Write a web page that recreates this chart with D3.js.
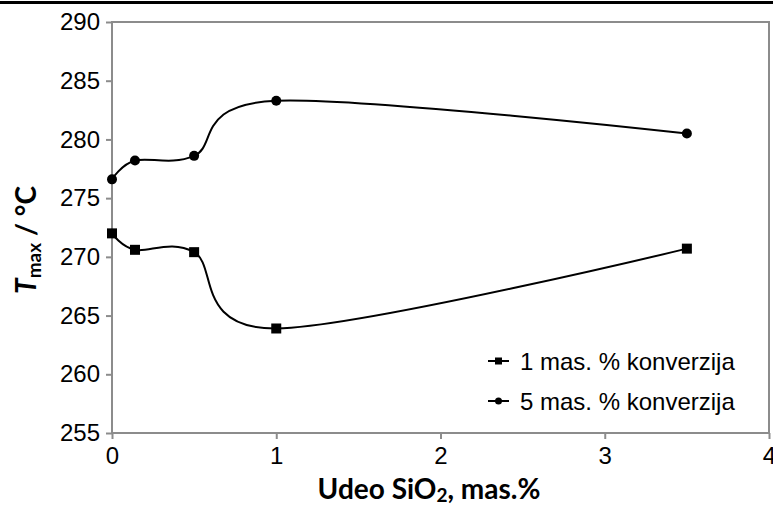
<!DOCTYPE html>
<html>
<head>
<meta charset="utf-8">
<script src="https://cdn.jsdelivr.net/npm/d3@7"></script>
<style>
body { margin: 0; background: #fff; }
text { font-family: "Liberation Sans", Arial, sans-serif; }
</style>
</head>
<body>
<div id="chart"></div>
<script>
// data
var silicaX = [0, 0.14, 0.5, 1, 3.5];
var conv1 = [272.0, 270.6, 270.4, 263.9, 270.7];
var conv5 = [276.6, 278.2, 278.6, 283.3, 280.5];
var xTicks = [0, 1, 2, 3, 4];
var yTicks = [255, 260, 265, 270, 275, 280, 285, 290];
var seriesNames = ["1 mas. % konverzija", "5 mas. % konverzija"];

var width = 773, height = 507;
var margin = {top: 22, right: 4, bottom: 74, left: 112};

var svg = d3.select("#chart").append("svg")
    .attr("width", width)
    .attr("height", height);

// black rule at very top
svg.append("line")
    .attr("x1", 0).attr("x2", width)
    .attr("y1", 2.5).attr("y2", 2.5)
    .attr("stroke", "#000").attr("stroke-width", 3);

var x = d3.scaleLinear().domain([0, 4]).range([margin.left, width - margin.right]);
var y = d3.scaleLinear().domain([255, 290]).range([height - margin.bottom, margin.top]);

// frame
svg.append("rect")
    .attr("x", x(0)).attr("y", y(290))
    .attr("width", x(4) - x(0)).attr("height", y(255) - y(290))
    .attr("fill", "none").attr("stroke", "#8c8c8c").attr("stroke-width", 2);

var yAxis = svg.append("g")
    .attr("transform", "translate(" + x(0) + ",0)")
    .call(d3.axisLeft(y).tickValues(yTicks).tickSize(6).tickPadding(6));
var xAxis = svg.append("g")
    .attr("transform", "translate(0," + y(255) + ")")
    .call(d3.axisBottom(x).tickValues(xTicks).tickFormat(d3.format("d")).tickSize(6).tickPadding(8));

[yAxis, xAxis].forEach(function(a) {
    a.select(".domain").remove();
    a.selectAll("line").attr("stroke", "#8c8c8c").attr("stroke-width", 2);
    a.selectAll("text").attr("fill", "#000").style("font-size", "24px")
        .style("font-family", "'Liberation Sans', Arial, sans-serif");
});

var line = d3.line()
    .x(function(d) { return x(d[0]); })
    .y(function(d) { return y(d[1]); })
    .curve(d3.curveCatmullRom.alpha(0));

var s1 = silicaX.map(function(v, i) { return [v, conv1[i]]; });
var s5 = silicaX.map(function(v, i) { return [v, conv5[i]]; });

svg.append("path").datum(s1).attr("d", line)
    .attr("fill", "none").attr("stroke", "#000").attr("stroke-width", 2);
svg.append("path").datum(s5).attr("d", line)
    .attr("fill", "none").attr("stroke", "#000").attr("stroke-width", 2);

svg.selectAll(".sq").data(s1).enter().append("rect")
    .attr("x", function(d) { return x(d[0]) - 5; })
    .attr("y", function(d) { return y(d[1]) - 5; })
    .attr("width", 10).attr("height", 10).attr("fill", "#000");
svg.selectAll(".ci").data(s5).enter().append("circle")
    .attr("cx", function(d) { return x(d[0]); })
    .attr("cy", function(d) { return y(d[1]); })
    .attr("r", 5).attr("fill", "#000");

// legend
var leg = svg.append("g").attr("transform", "translate(488,361)");
seriesNames.forEach(function(name, i) {
    var g = leg.append("g").attr("transform", "translate(0," + (i * 40) + ")");
    g.append("line").attr("x1", 0).attr("x2", 21).attr("y1", 0).attr("y2", 0)
        .attr("stroke", "#000").attr("stroke-width", 2);
    if (i == 0) {
        g.append("rect").attr("x", 7).attr("y", -3.5).attr("width", 7).attr("height", 7).attr("fill", "#000");
    } else {
        g.append("circle").attr("cx", 10.5).attr("cy", 0).attr("r", 3.5).attr("fill", "#000");
    }
    g.append("text").attr("x", 32).attr("y", 8.5).style("font-size", "24px").text(name);
});

// axis titles
svg.append("text")
    .attr("x", 429).attr("y", 499)
    .attr("text-anchor", "middle")
    .style("font-family", "Lato, 'Open Sans', sans-serif")
    .style("font-weight", "bold").style("font-size", "28px")
    .html('Udeo SiO<tspan dy="3" font-size="19px">2</tspan><tspan dy="-3">, mas.%</tspan>');

svg.append("text")
    .attr("transform", "translate(36,240) rotate(-90)")
    .attr("text-anchor", "middle")
    .style("font-family", "Lato, 'Open Sans', sans-serif")
    .style("font-weight", "bold").style("font-size", "28px")
    .html('<tspan font-style="italic">T</tspan><tspan dy="5" font-size="19px">max</tspan><tspan dy="-5"> / \u00B0C</tspan>');
</script>
</body>
</html>
